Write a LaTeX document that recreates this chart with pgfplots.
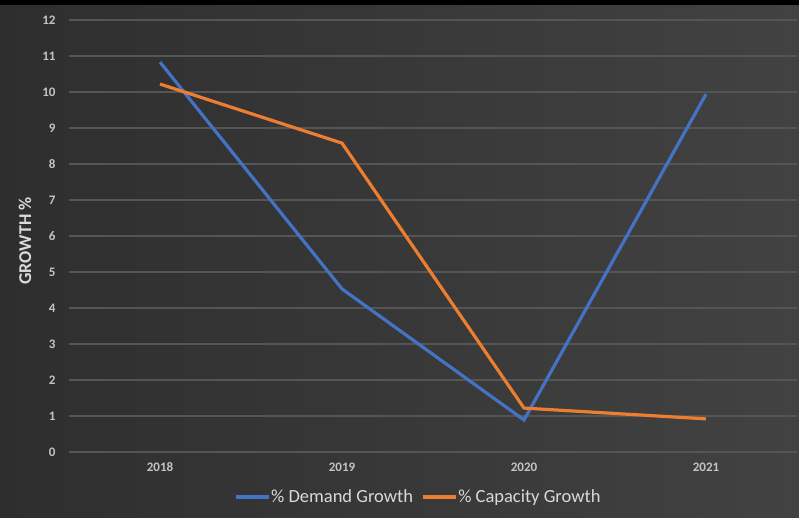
\documentclass[border=0pt]{standalone}
\usepackage{fontspec}
\setmainfont{Carlito}
\usepackage{pgfplots}
\pgfplotsset{compat=1.18}
\definecolor{bgl}{HTML}{2E2E2E}
\definecolor{bgr}{HTML}{424242}
\definecolor{gridc}{HTML}{555555}
\definecolor{tickc}{HTML}{C4C4C4}
\definecolor{legc}{HTML}{DADADA}
\definecolor{blueS}{HTML}{4472C4}
\definecolor{orangeS}{HTML}{ED7D31}
\begin{document}
\begin{tikzpicture}[x=1pt,y=1pt]
\fill[left color=bgl, right color=bgr] (0,0) rectangle (799,517);
\fill[black] (0,512) rectangle (799,517);
\path[use as bounding box] (0,0) rectangle (799,517);
\begin{axis}[
  at={(69pt,65pt)}, anchor=south west,
  width=728pt, height=432pt, scale only axis,
  xmin=-0.5, xmax=3.5, ymin=0, ymax=12,
  axis line style={draw=none},
  ymajorgrids, grid style={color=gridc, line width=1.2pt},
  major tick length=0pt,
  xtick={0,1,2,3}, xticklabels={2018,2019,2020,2021},
  ytick={0,1,...,12},
  /pgf/number format/assume math mode=true,
  tick label style={font=\bfseries\fontsize{13}{13}\selectfont, text=tickc},
  yticklabel style={anchor=east, xshift=-10pt},
  xticklabel style={anchor=center, yshift=-15pt},
  legend columns=2,
  legend style={at={(0.479,-0.104)}, anchor=center, draw=none, fill=none,
    font=\fontsize{18.5}{18.5}\selectfont, text=legc,
    nodes={inner xsep=1pt},
    /tikz/every even column/.append style={column sep=7pt}},
  legend image code/.code={\draw[#1] (0pt,0pt) -- (33pt,0pt);},
]
\addplot[blueS, line width=3.2pt] coordinates {(0,10.83) (1,4.53) (2,0.89) (3,9.94)};
\addlegendentry{\% Demand Growth}
\addplot[orangeS, line width=3.2pt] coordinates {(0,10.22) (1,8.58) (2,1.22) (3,0.92)};
\addlegendentry{\% Capacity Growth}
\end{axis}
\node[rotate=90, font=\bfseries\fontsize{18}{18}\selectfont, text=legc] at (25,276) {GROWTH \%};
\end{tikzpicture}
\end{document}
